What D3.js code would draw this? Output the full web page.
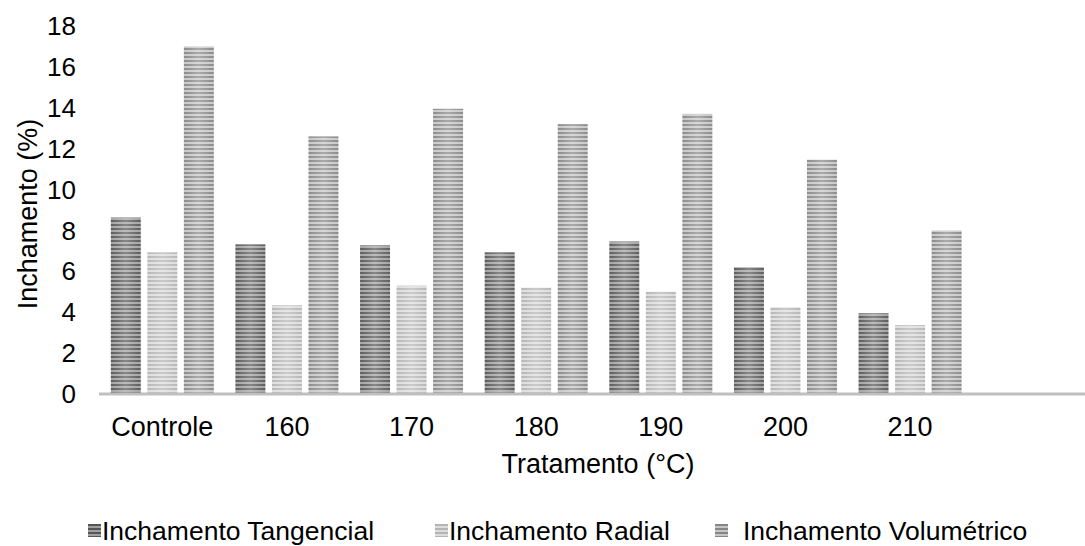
<!DOCTYPE html>
<meta charset="utf-8">
<head>
<style>
  body { margin: 0; background: #fff; }
  text { font-family: "Liberation Sans", Arial, sans-serif; fill: #000; }
</style>
</head>
<body>
<script src="https://d3js.org/d3.v7.min.js"></script>
<script>
  // data
  var categories = ["Controle", "160", "170", "180", "190", "200", "210", ""];
  var seriesNames = ["Inchamento Tangencial", "Inchamento Radial", "Inchamento Volumétrico"];
  var tangencial = [8.63, 7.32, 7.27, 6.93, 7.46, 6.2, 3.95];
  var radial = [6.93, 4.34, 5.3, 5.2, 5.0, 4.24, 3.37];
  var volumetrico = [17.0, 12.6, 13.95, 13.2, 13.7, 11.46, 8.0];
  var yTicks = [0, 2, 4, 6, 8, 10, 12, 14, 16, 18];

  var series = [tangencial, radial, volumetrico];
  var stripes = [["#555555", "#a0a0a0"], ["#b4b4b4", "#dcdcdc"], ["#868686", "#c6c6c6"]];

  var width = 1085, height = 546;
  var svg = d3.select("body").append("svg")
      .attr("width", width)
      .attr("height", height);

  var defs = svg.append("defs");
  var grad = defs.append("linearGradient").attr("id", "shine")
      .attr("x1", 0).attr("x2", 1).attr("y1", 0).attr("y2", 0);
  grad.append("stop").attr("offset", "0%").attr("stop-color", "#fff").attr("stop-opacity", 0.05);
  grad.append("stop").attr("offset", "50%").attr("stop-color", "#fff").attr("stop-opacity", 0.3);
  grad.append("stop").attr("offset", "100%").attr("stop-color", "#fff").attr("stop-opacity", 0.05);

  stripes.forEach(function (c, i) {
    var p = defs.append("pattern").attr("id", "pat" + i)
        .attr("patternUnits", "userSpaceOnUse")
        .attr("width", 10).attr("height", 4);
    p.append("rect").attr("width", 10).attr("height", 4).attr("fill", c[1]);
    p.append("rect").attr("width", 10).attr("height", 2).attr("fill", c[0]);
  });

  var x = d3.scaleBand()
      .domain(categories)
      .range([100, 1097]);

  var x1 = d3.scaleBand()
      .domain(d3.range(3))
      .range([0, 103])
      .paddingInner(0.18);

  var y = d3.scaleLinear()
      .domain([0, 18])
      .range([394, 26]);

  // bars
  series.forEach(function (vals, s) {
    var g = svg.append("g");
    vals.forEach(function (v, i) {
      var bx = x(categories[i]) + x.bandwidth() / 2 - 51.5 + x1(s);
      g.append("rect")
          .attr("x", bx).attr("y", y(v))
          .attr("width", x1.bandwidth()).attr("height", y(0) - y(v))
          .attr("fill", "url(#pat" + s + ")");
      g.append("rect")
          .attr("x", bx).attr("y", y(v))
          .attr("width", x1.bandwidth()).attr("height", y(0) - y(v))
          .attr("fill", "url(#shine)");
    });
  });

  // x axis line
  svg.append("line")
      .attr("x1", 99).attr("x2", width)
      .attr("y1", y(0)).attr("y2", y(0))
      .attr("stroke", "#bfbfbf").attr("stroke-width", 3);

  // y tick labels
  svg.append("g").selectAll("text")
      .data(yTicks).enter().append("text")
      .attr("x", 76).attr("y", function (d) { return y(d); })
      .attr("dy", "0.35em")
      .attr("text-anchor", "end")
      .style("font-size", "26px")
      .text(function (d) { return d; });

  // x tick labels
  svg.append("g").selectAll("text")
      .data(categories).enter().append("text")
      .attr("x", function (d) { return x(d) + x.bandwidth() / 2; })
      .attr("y", 436)
      .attr("text-anchor", "middle")
      .style("font-size", "27px")
      .text(function (d) { return d; });

  // axis titles
  svg.append("text")
      .attr("x", 598).attr("y", 473)
      .attr("text-anchor", "middle")
      .style("font-size", "27px")
      .text("Tratamento (°C)");

  svg.append("text")
      .attr("transform", "translate(37,214) rotate(-90)")
      .attr("text-anchor", "middle")
      .style("font-size", "27px")
      .text("Inchamento (%)");

  // legend
  var legendX = [88, 435, 715];
  var legendTextX = [102, 449, 743];
  seriesNames.forEach(function (name, i) {
    svg.append("rect")
        .attr("x", legendX[i]).attr("y", 524)
        .attr("width", 13).attr("height", 13)
        .attr("fill", "url(#pat" + i + ")");
    svg.append("text")
        .attr("x", legendTextX[i]).attr("y", 540)
        .style("font-size", "26.5px")
        .text(name);
  });
</script>
</body>
